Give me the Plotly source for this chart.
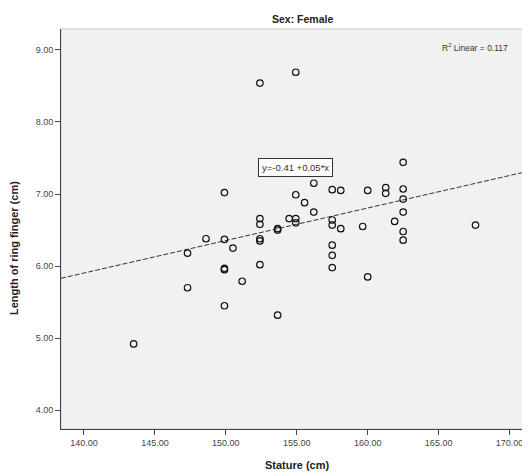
import plotly.graph_objects as go

# Data
stature = [143.5, 147.3, 147.3, 148.6, 149.9, 149.9, 149.9, 149.9, 149.9, 150.5,
           151.15, 152.4, 152.4, 152.4, 152.4, 152.4, 152.4, 153.65, 153.65, 153.65,
           154.46, 154.93, 154.93, 154.93, 154.93, 155.55, 156.2, 156.2, 157.5, 158.1,
           157.5, 157.5, 158.1, 157.5, 157.5, 157.5, 159.65, 160.0, 160.0, 161.27,
           161.27, 162.5, 162.5, 162.5, 162.5, 161.9, 162.5, 162.5, 167.6]
ring_finger = [4.92, 6.18, 5.70, 6.38, 6.37, 7.02, 5.97, 5.95, 5.45, 6.25,
               5.79, 8.54, 6.66, 6.58, 6.38, 6.35, 6.02, 6.52, 6.50, 5.32,
               6.66, 6.66, 6.60, 6.99, 8.69, 6.88, 7.15, 6.75, 7.06, 7.05,
               6.64, 6.57, 6.52, 6.29, 6.15, 5.98, 6.55, 7.05, 5.85, 7.09,
               7.01, 7.44, 7.07, 6.93, 6.75, 6.62, 6.48, 6.36, 6.57]

fit_intercept = -0.41
fit_slope = 0.0451
r2_text = "R<sup>2</sup> Linear = 0.117"
eq_text = "y=-0.41 +0.05*x"

x_range = [138.38, 171.3]
y_range = [3.74, 9.29]
x_ticks = [140, 145, 150, 155, 160, 165, 170]
y_ticks = [4, 5, 6, 7, 8, 9]

fit_x = x_range
fit_y = [fit_intercept + fit_slope * v for v in fit_x]

font_family = "Liberation Sans, Arial, sans-serif"

# page body has an 8px margin; compensate so the plot area lands where the reference has it
W, H = 522, 468
ML, MR, MT, MB = 53, 2, 21, 47
PW = W - ML - MR
PH = H - MT - MB
OFF = 8


def px_x(px):
    return (px - OFF - ML) / PW


def px_y(py):
    return (H - MB - (py - OFF)) / PH


fig = go.Figure()
fig.add_trace(go.Scatter(
    x=fit_x, y=fit_y, mode="lines",
    line=dict(color="#333333", width=1, dash="5px,2px"),
    hoverinfo="skip", showlegend=False))
fig.add_trace(go.Scatter(
    x=stature, y=ring_finger, mode="markers",
    marker=dict(symbol="circle-open", size=6.5, color="#111111", line=dict(width=1.2)),
    showlegend=False))

fig.update_layout(
    width=W, height=H,
    margin=dict(l=ML, r=MR, t=MT, b=MB),
    paper_bgcolor="white",
    plot_bgcolor="#f0f1f1",
    font=dict(family=font_family, size=9, color="#333333"),
    showlegend=False,
    shapes=[dict(type="rect", xref="paper", yref="paper", x0=0, x1=1, y0=0, y1=1,
                 line=dict(color="#c8c8c8", width=1), layer="below")],
    annotations=[
        dict(text="<b>Sex: Female</b>", xref="paper", yref="paper",
             x=px_x(302), y=px_y(19), xanchor="center", yanchor="middle",
             showarrow=False, font=dict(size=10.5, color="#222222")),
        dict(text="<b>Length of ring finger (cm)</b>", xref="paper", yref="paper",
             x=px_x(14), y=px_y(248), textangle=-90,
             xanchor="center", yanchor="middle", showarrow=False,
             font=dict(size=11, color="#222222")),
        dict(text="<b>Stature (cm)</b>", xref="paper", yref="paper",
             x=px_x(297), y=px_y(465), xanchor="center", yanchor="middle",
             showarrow=False, font=dict(size=11, color="#222222")),
        dict(text=r2_text, xref="paper", yref="paper",
             x=px_x(510), y=px_y(48), xanchor="right", yanchor="middle",
             showarrow=False, font=dict(size=8.5, color="#333333")),
        dict(text=eq_text, xref="paper", yref="paper",
             x=px_x(295), y=px_y(167), xanchor="center", yanchor="middle",
             showarrow=False, font=dict(size=9.5, color="#333333"),
             bgcolor="white", bordercolor="#333333", borderwidth=1, borderpad=3),
    ],
)

fig.update_xaxes(
    range=x_range, tickvals=x_ticks, ticktext=[f"{v:.2f}" for v in x_ticks],
    showgrid=False, zeroline=False, showline=True, linecolor="#444444", linewidth=1,
    ticks="outside", ticklen=5, tickcolor="#444444",
    tickfont=dict(size=9, color="#444444"))
fig.update_yaxes(
    range=y_range, tickvals=y_ticks, ticktext=[f"{v:.2f}" for v in y_ticks],
    showgrid=False, zeroline=False, showline=True, linecolor="#444444", linewidth=1,
    ticks="outside", ticklen=5, tickcolor="#444444",
    tickfont=dict(size=9, color="#444444"))

fig.write_html("out.html")
